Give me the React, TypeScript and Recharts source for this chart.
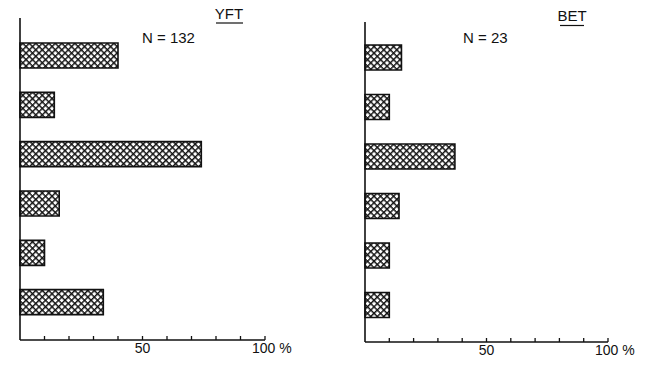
import React from "react";
import { BarChart, Bar, XAxis, YAxis } from "recharts";

// size classes (top to bottom), unlabeled in the original figure
const classes = ["1", "2", "3", "4", "5", "6"];
// percent of fish per class
const yftPct = [40, 14, 74, 16, 10, 34];
const betPct = [15, 10, 37, 14, 10, 10];
const pctTicks = [10, 20, 30, 40, 50, 60, 70, 80, 90, 100];
const tickLabels: Record<number, string> = { 50: "50", 100: "100 %" };

const FONT = "'Liberation Sans', Arial, sans-serif";

const PctTick = (props: any) => {
  const { x, y, payload } = props;
  const label = tickLabels[payload.value];
  return (
    <g>
      <line x1={x} y1={y} x2={x} y2={y - 4} stroke="#111" strokeWidth={1.3} />
      {label && (
        <text
          x={payload.value === 100 ? x - 13 : x}
          y={y + 13}
          textAnchor={payload.value === 100 ? "start" : "middle"}
          fontFamily={FONT}
          fontSize={14}
          fill="#111"
        >
          {label}
        </text>
      )}
    </g>
  );
};

function Panel({
  id,
  values,
  width,
  margin,
  pad,
}: {
  id: string;
  values: number[];
  width: number;
  margin: { top: number; right: number; bottom: number; left: number };
  pad: { top: number; bottom: number };
}) {
  const data = classes.map((c, i) => ({ cat: c, pct: values[i] }));
  return (
    <BarChart width={width} height={371} data={data} layout="vertical" margin={margin}>
      <defs>
        <pattern
          id={id}
          width={4.6}
          height={4.6}
          patternUnits="userSpaceOnUse"
          patternTransform="rotate(45)"
        >
          <rect width={4.6} height={4.6} fill="#fff" />
          <line x1={0} y1={0} x2={4.6} y2={0} stroke="#111" strokeWidth={2.9} />
          <line x1={0} y1={0} x2={0} y2={4.6} stroke="#111" strokeWidth={2.9} />
        </pattern>
      </defs>
      <XAxis
        type="number"
        domain={[0, 100]}
        ticks={pctTicks}
        interval={0}
        height={20}
        tickSize={0}
        tickMargin={0}
        tickLine={false}
        axisLine={{ stroke: "#111", strokeWidth: 1.4 }}
        tick={<PctTick />}
      />
      <YAxis
        type="category"
        dataKey="cat"
        width={1}
        tick={false}
        tickLine={false}
        padding={pad}
        axisLine={{ stroke: "#111", strokeWidth: 1.6 }}
      />
      <Bar
        dataKey="pct"
        barSize={25}
        fill={`url(#${id})`}
        stroke="#111"
        strokeWidth={1.6}
        isAnimationActive={false}
      />
    </BarChart>
  );
}

export default function App() {
  return (
    <div
      style={{
        position: "absolute",
        left: 0,
        top: 0,
        width: 671,
        height: 371,
        background: "#fff",
      }}
    >
      <div style={{ position: "absolute", left: 0, top: 0 }}>
        <Panel
          id="hatchYFT"
          values={yftPct}
          width={335}
          margin={{ top: 18, right: 70, bottom: 11, left: 19 }}
          pad={{ top: 13, bottom: 13 }}
        />
      </div>
      <div style={{ position: "absolute", left: 335, top: 0 }}>
        <Panel
          id="hatchBET"
          values={betPct}
          width={336}
          margin={{ top: 22, right: 63, bottom: 9, left: 29 }}
          pad={{ top: 11, bottom: 12 }}
        />
      </div>
      <svg
        width={671}
        height={371}
        style={{ position: "absolute", left: 0, top: 0, pointerEvents: "none" }}
      >
        <g fontFamily={FONT} fontSize={15} fill="#111">
          <text x={229} y={19} textAnchor="middle">YFT</text>
          <line x1={216} y1={23} x2={243} y2={23} stroke="#111" strokeWidth={1.2} />
          <text x={142} y={43}>N = 132</text>
          <text x={572} y={21} textAnchor="middle">BET</text>
          <line x1={560} y1={25.5} x2={584} y2={25.5} stroke="#111" strokeWidth={1.2} />
          <text x={463} y={43}>N = 23</text>
        </g>
      </svg>
    </div>
  );
}
